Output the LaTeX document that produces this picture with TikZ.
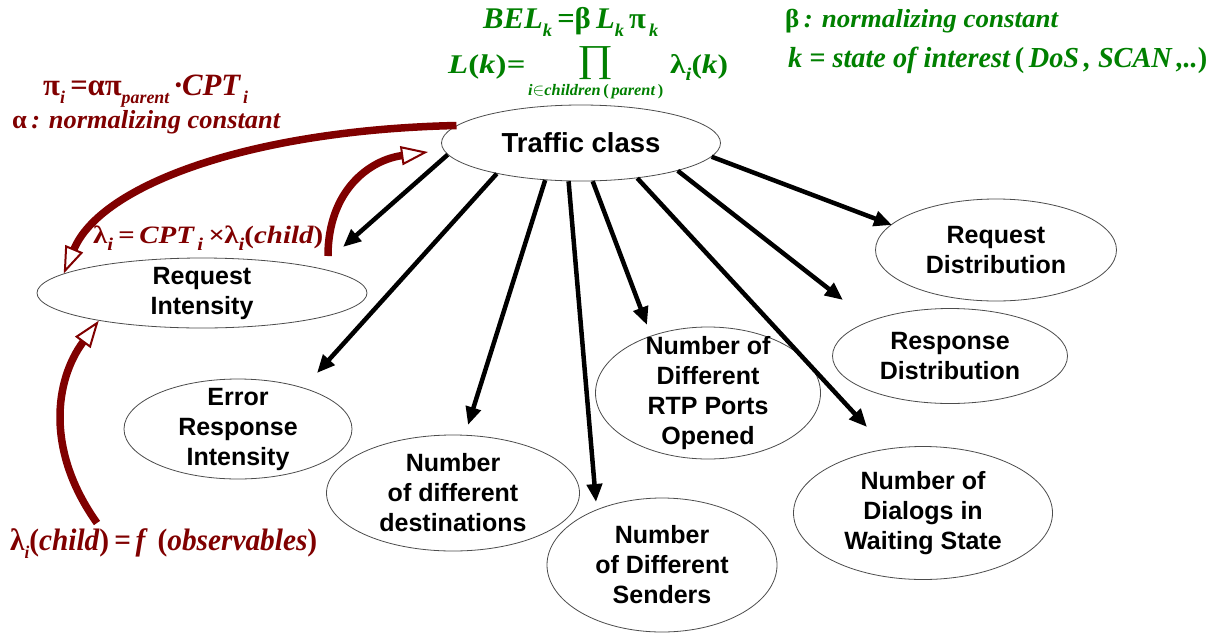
\documentclass[tikz,border=0pt]{standalone}
\usepackage{fontspec}
\setmainfont{Liberation Sans}
\newfontfamily\tnr{Liberation Serif}
\usetikzlibrary{shapes.geometric,arrows.meta}
\definecolor{dred}{RGB}{128,0,0}
\definecolor{dgreen}{RGB}{0,128,0}
\newcommand\sbs[1]{\raisebox{-0.28em}{\fontsize{18}{18}\selectfont #1}}
\newcommand\gr[1]{{\upshape #1}}
\newcommand\fw[2]{\resizebox{#1}{\height}{#2}}
\tikzset{
  bub/.style={ellipse, draw=black!70, line width=0.8pt, inner sep=0pt},
  lbl/.style={align=center, inner sep=0pt, font=\fontsize{25}{30}\selectfont\bfseries},
  blk/.style={line width=4.5pt, -{Triangle[length=18pt,width=15pt]}},
  rarr/.style={draw=dred, line width=7.5pt, -{Triangle[open,length=27pt,width=19pt,line width=2pt]}},
  rtx/.style={inner sep=0pt, anchor=base west, text=dred, font={\tnr\bfseries\itshape\fontsize{28}{30}\selectfont}},
  gtx/.style={inner sep=0pt, anchor=base west, text=dgreen, font={\tnr\bfseries\itshape\fontsize{28}{30}\selectfont}},
}
\begin{document}
\begin{tikzpicture}[x=1pt,y=-1pt]
\useasboundingbox[fill=white] (0,0) rectangle (1217,635);

% ellipses
\node[bub, minimum width=279pt, minimum height=76pt] (tc) at (581,143) {};
\node[bub, minimum width=330pt, minimum height=70pt] (ri) at (202,293) {};
\node[bub, minimum width=228pt, minimum height=100pt] (er) at (238,429) {};
\node[bub, minimum width=253pt, minimum height=116pt] (nd) at (453,493) {};
\node[bub, minimum width=230pt, minimum height=134pt] (ns) at (662,565) {};
\node[bub, minimum width=225pt, minimum height=132pt] (rtp) at (708,393) {};
\node[bub, minimum width=259pt, minimum height=133pt] (dw) at (923,513) {};
\node[bub, minimum width=235pt, minimum height=95pt] (rsd) at (950,356) {};
\node[bub, minimum width=241pt, minimum height=102pt] (rqd) at (996,250) {};

% labels
\node[lbl, font=\fontsize{27.5}{30}\selectfont\bfseries] (tcl) at (tc) {Traffic class};
\node[lbl] (ril) at (ri) {Request\\Intensity};
\node[lbl] (erl) at (er) {Error\\Response\\Intensity};
\node[lbl] (ndl) at (nd) {Number\\of different\\destinations};
\node[lbl] (nsl) at (ns) {Number\\of Different\\Senders};
\node[lbl] (rtpl) at (rtp) {Number of\\Different\\RTP Ports\\Opened};
\node[lbl] (dwl) at (dw) {Number of\\Dialogs in\\Waiting State};
\node[lbl] (rsdl) at (rsd) {Response\\Distribution};
\node[lbl] (rqdl) at (rqd) {Request\\Distribution};

% black arrows
\coordinate (t1) at (343,247);
\coordinate (t2) at (317,373);
\coordinate (t3) at (468,425);
\coordinate (t4) at (596,502);
\coordinate (t5) at (647,325);
\coordinate (t6) at (867,427);
\coordinate (t7) at (843,300);
\coordinate (t8) at (892,225);
\draw[blk] (tc.185.8) -- (t1);
\draw[blk] (tc.200.6) -- (t2);
\draw[blk] (tc.226.5) -- (t3);
\draw[blk] (tc.252) -- (t4);
\draw[blk] (tc.287) -- (t5);
\draw[blk] (tc.328.6) -- (t6);
\draw[blk] (tc.344.9) -- (t7);
\draw[blk] (tc.354.2) -- (t8);

% red arrows
\draw[rarr] (tc.172.9) .. controls (250,130) and (101,185) .. (ri.172.2);
\coordinate (b0) at (328,256);
\coordinate (b1) at (428,152);
\draw[rarr] (b0) .. controls (328,190) and (370,160) .. (b1);
\coordinate (c0) at (97,523);
\draw[rarr] (c0) .. controls (45,450) and (55,380) .. (ri.195);

% red formulas
\node[rtx, font={\tnr\bfseries\itshape\fontsize{31}{32}\selectfont}] (r1) at (43,95) {\fw{205pt}{\gr{π}\sbs{i}\,=\gr{απ}\sbs{parent}\,·\textit{CPT}\sbs{\,i}}};
\node[rtx, font={\tnr\bfseries\itshape\fontsize{26}{30}\selectfont}] (r2) at (12,128) {\fw{268pt}{\gr{α}\,: normalizing constant}};
\node[rtx, font={\tnr\bfseries\itshape\fontsize{25}{30}\selectfont}] (r3) at (93,243) {\fw{230pt}{\gr{λ}\sbs{i}\,=\,CPT\sbs{\,i}\,×\gr{λ}\sbs{i}\gr{(}child\gr{)}}};
\node[rtx, font={\tnr\bfseries\itshape\fontsize{31}{32}\selectfont}] (r4) at (10,550) {\fw{307pt}{\gr{λ}\sbs{i}\gr{(}child\gr{)}\,=\,f\, \gr{(}observables\gr{)}}};

% green formulas
\node[gtx, font={\tnr\bfseries\itshape\fontsize{30}{32}\selectfont}] (g1) at (483,28) {\fw{175pt}{BEL\sbs{k}\,=\gr{β}\,L\sbs{k}\,\gr{π}\sbs{\,k}}};
\node[gtx, font={\tnr\bfseries\itshape\fontsize{27}{30}\selectfont}] (g2) at (448,73) {\fw{77pt}{L\gr{(}k\gr{)}=}};
\node[inner sep=0pt, text=dgreen, font=\tnr] (gp) at (595,63.5) {\resizebox*{36pt}{33pt}{∏}};
\node[gtx, font={\tnr\bfseries\itshape\fontsize{16}{18}\selectfont}] (gs) at (528,95) {\fw{135pt}{i$\in$children\,\gr{(}\,parent\,\gr{)}}};
\node[gtx, font={\tnr\bfseries\itshape\fontsize{27}{30}\selectfont}] (g3) at (670,73) {\fw{58pt}{\gr{λ}\sbs{i}\gr{(}k\gr{)}}};
\node[gtx, font={\tnr\bfseries\itshape\fontsize{26}{30}\selectfont}] (g4) at (785,27) {\fw{273pt}{\gr{β}\,: normalizing constant}};
\node[gtx, font={\tnr\bfseries\itshape\fontsize{29}{30}\selectfont}] (g5) at (788,67) {\fw{419pt}{k = state of interest\,\gr{(}\,DoS\,, SCAN\,,..\gr{)}}};
\end{tikzpicture}
\end{document}
